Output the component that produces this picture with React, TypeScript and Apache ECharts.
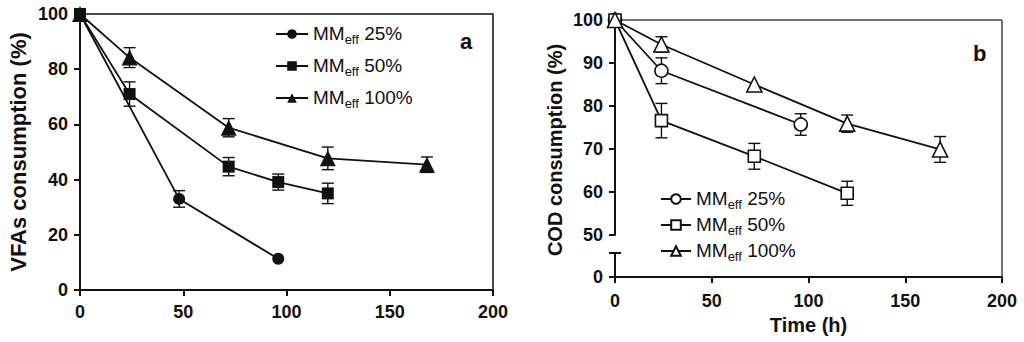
import React, { useEffect, useRef } from "react";
import * as echarts from "echarts";

// ---- Data (panel a: VFAs consumption) ----
const aLabels = ["MMeff 25%", "MMeff 50%", "MMeff 100%"];
const a25X = [0, 48, 96];
const a25Y = [100, 33, 11.3];
const a25E = [0, 3, 0];
const a50X = [0, 24, 72, 96, 120];
const a50Y = [100, 71, 44.7, 39.1, 35];
const a50E = [0, 4.4, 3.3, 2.9, 3.7];
const a100X = [0, 24, 72, 120, 168];
const a100Y = [100, 84.2, 58.8, 47.7, 45.4];
const a100E = [0, 3.6, 3.3, 4.1, 2.8];

// ---- Data (panel b: COD consumption) ----
const b25X = [0, 24, 96];
const b25Y = [100, 88.2, 75.7];
const b25E = [0, 3, 2.5];
const b50X = [0, 24, 72, 120];
const b50Y = [100, 76.6, 68.3, 59.7];
const b50E = [0, 4, 3, 2.8];
const b100X = [0, 24, 72, 120, 168];
const b100Y = [100, 94.3, 85, 75.9, 69.9];
const b100E = [0, 1.8, 0, 2, 3];

const FONT = "Liberation Sans, Arial, Helvetica, sans-serif";
const INK = "#111";

const pts = (xs: number[], ys: number[]) => xs.map((x, i) => [x, ys[i]]);
const errs = (xs: number[], ys: number[], es: number[]) =>
  xs.map((x, i) => [x, ys[i] - es[i], ys[i] + es[i]]).filter((_, i) => es[i] > 0);

const errorRender = (params: any, api: any) => {
  const x = api.value(0);
  const lo = api.coord([x, api.value(1)]);
  const hi = api.coord([x, api.value(2)]);
  const w = 6;
  const style = { stroke: INK, lineWidth: 1.4 };
  return {
    type: "group",
    children: [
      { type: "line", shape: { x1: hi[0], y1: hi[1], x2: lo[0], y2: lo[1] }, style },
      { type: "line", shape: { x1: hi[0] - w, y1: hi[1], x2: hi[0] + w, y2: hi[1] }, style },
      { type: "line", shape: { x1: lo[0] - w, y1: lo[1], x2: lo[0] + w, y2: lo[1] }, style },
    ],
  };
};

const legendRich = {
  m: { fontSize: 19, fontFamily: FONT, color: INK, lineHeight: 20, verticalAlign: "top" },
  s: { fontSize: 13, fontFamily: FONT, color: INK, lineHeight: 13, verticalAlign: "top", padding: [9, 0, 0, 0] },
};
const fmtLegend = (label: string) => {
  const rest = label.replace("MMeff", "");
  return `{m|MM}{s|eff}{m|${rest}}`;
};

export default function App() {
  const ref = useRef<HTMLDivElement>(null);
  useEffect(() => {
    if (!ref.current) return;
    const chart = echarts.init(ref.current, null, { renderer: "svg" });
    const axisLine = { lineStyle: { color: INK, width: 2 } };
    const axisTick = { length: 6, lineStyle: { color: INK, width: 2 } };
    const tickLabel = { color: INK, fontSize: 18, fontWeight: "bold", fontFamily: FONT };

    const lineSeries = (name: string, data: number[][], symbol: string, size: number, hollow: boolean, xi: number, yi: number) => ({
      type: "line",
      name,
      data,
      xAxisIndex: xi,
      yAxisIndex: yi,
      symbol,
      symbolSize: size,
      showAllSymbol: true,
      z: 3,
      lineStyle: { color: INK, width: 1.8 },
      itemStyle: hollow
        ? { color: "#fff", borderColor: INK, borderWidth: 1.6 }
        : { color: INK, borderColor: INK, borderWidth: 0 },
    });
    const errSeries = (data: number[][], xi: number, yi: number) => ({
      type: "custom",
      data,
      xAxisIndex: xi,
      yAxisIndex: yi,
      encode: { x: 0, y: [1, 2] },
      renderItem: errorRender,
      z: 2,
      silent: true,
    });

    chart.setOption({
      animation: false,
      backgroundColor: "#fff",
      textStyle: { fontFamily: FONT },
      grid: [
        { left: 80, top: 14, width: 413, height: 276, show: true, borderColor: INK, borderWidth: 1.5, backgroundColor: "transparent" },
        { left: 615, top: 20, width: 387, height: 215 },
        { left: 615, top: 253, width: 387, height: 24 },
      ],
      xAxis: [
        {
          gridIndex: 0, type: "value", min: 0, max: 200, interval: 50,
          axisLine, axisTick, splitLine: { show: false },
          axisLabel: { ...tickLabel, margin: 13 },
        },
        {
          gridIndex: 1, type: "value", min: 0, max: 200, interval: 50,
          show: false, splitLine: { show: false },
        },
        {
          gridIndex: 2, type: "value", min: 0, max: 200, interval: 50,
          axisLine, axisTick, splitLine: { show: false },
          axisLabel: { ...tickLabel, margin: 15 },
          name: "Time (h)", nameLocation: "middle", nameGap: 38,
          nameTextStyle: { color: INK, fontSize: 20, fontWeight: "bold", fontFamily: FONT },
        },
      ],
      yAxis: [
        {
          gridIndex: 0, type: "value", min: 0, max: 100, interval: 20,
          axisLine: { show: true, ...axisLine }, axisTick: { show: true, ...axisTick }, splitLine: { show: false },
          axisLabel: { ...tickLabel, margin: 12 },
          name: "VFAs consumption (%)", nameLocation: "middle", nameGap: 51,
          nameTextStyle: { color: INK, fontSize: 22, fontWeight: "bold", fontFamily: FONT },
        },
        {
          gridIndex: 1, type: "value", min: 50, max: 100, interval: 10,
          axisLine: { show: true, ...axisLine }, axisTick: { show: true, ...axisTick }, splitLine: { show: false },
          axisLabel: { ...tickLabel, margin: 12 },
        },
        {
          gridIndex: 2, type: "value", min: 0, max: 10, interval: 10,
          axisLine: { show: true, ...axisLine }, axisTick: { show: true, ...axisTick }, splitLine: { show: false },
          axisLabel: { ...tickLabel, margin: 12, formatter: (v: number) => (v === 0 ? "0" : "") },
        },
      ],
      legend: [
        {
          orient: "vertical", left: 270, top: 19, itemWidth: 32, itemHeight: 12, itemGap: 10,
          data: ["a25", "a50", "a100"],
          formatter: (n: string) => fmtLegend(aLabels[["a25", "a50", "a100"].indexOf(n)]),
          textStyle: { rich: legendRich },
          selectedMode: false,
        },
        {
          orient: "vertical", left: 655, top: 184, itemWidth: 30, itemHeight: 12, itemGap: 4,
          data: ["b25", "b50", "b100"],
          formatter: (n: string) => fmtLegend(aLabels[["b25", "b50", "b100"].indexOf(n)]),
          textStyle: { rich: legendRich },
          selectedMode: false,
        },
      ],
      graphic: [
        { type: "text", left: 460, top: 30, style: { text: "a", font: `bold 22px ${FONT}`, fill: INK } },
        { type: "text", left: 973, top: 42, style: { text: "b", font: `bold 22px ${FONT}`, fill: INK } },
        { type: "line", shape: { x1: 615, y1: 20, x2: 1002, y2: 20 }, style: { stroke: "#444", lineWidth: 1.5 } },
        { type: "line", shape: { x1: 1002, y1: 20, x2: 1002, y2: 277 }, style: { stroke: "#444", lineWidth: 1.5 } },
        { type: "line", shape: { x1: 609, y1: 253, x2: 621, y2: 253 }, style: { stroke: INK, lineWidth: 2 } },
        {
          type: "text", x: 555, y: 150, rotation: Math.PI / 2,
          style: { text: "COD consumption (%)", font: `bold 20px ${FONT}`, fill: INK, align: "center", verticalAlign: "middle" },
        },
      ],
      series: [
        errSeries(errs(a25X, a25Y, a25E), 0, 0),
        errSeries(errs(a50X, a50Y, a50E), 0, 0),
        errSeries(errs(a100X, a100Y, a100E), 0, 0),
        lineSeries("a25", pts(a25X, a25Y), "circle", 12, false, 0, 0),
        lineSeries("a50", pts(a50X, a50Y), "rect", 12, false, 0, 0),
        lineSeries("a100", pts(a100X, a100Y), "triangle", 16, false, 0, 0),
        errSeries(errs(b25X, b25Y, b25E), 1, 1),
        errSeries(errs(b50X, b50Y, b50E), 1, 1),
        errSeries(errs(b100X, b100Y, b100E), 1, 1),
        lineSeries("b25", pts(b25X, b25Y), "circle", 13, true, 1, 1),
        lineSeries("b50", pts(b50X, b50Y), "rect", 12, true, 1, 1),
        lineSeries("b100", pts(b100X, b100Y), "triangle", 15, true, 1, 1),
      ],
    });
    return () => chart.dispose();
  }, []);
  return (
    <div
      ref={ref}
      style={{ position: "fixed", left: 0, top: 0, width: 1024, height: 342, background: "#fff" }}
    />
  );
}
